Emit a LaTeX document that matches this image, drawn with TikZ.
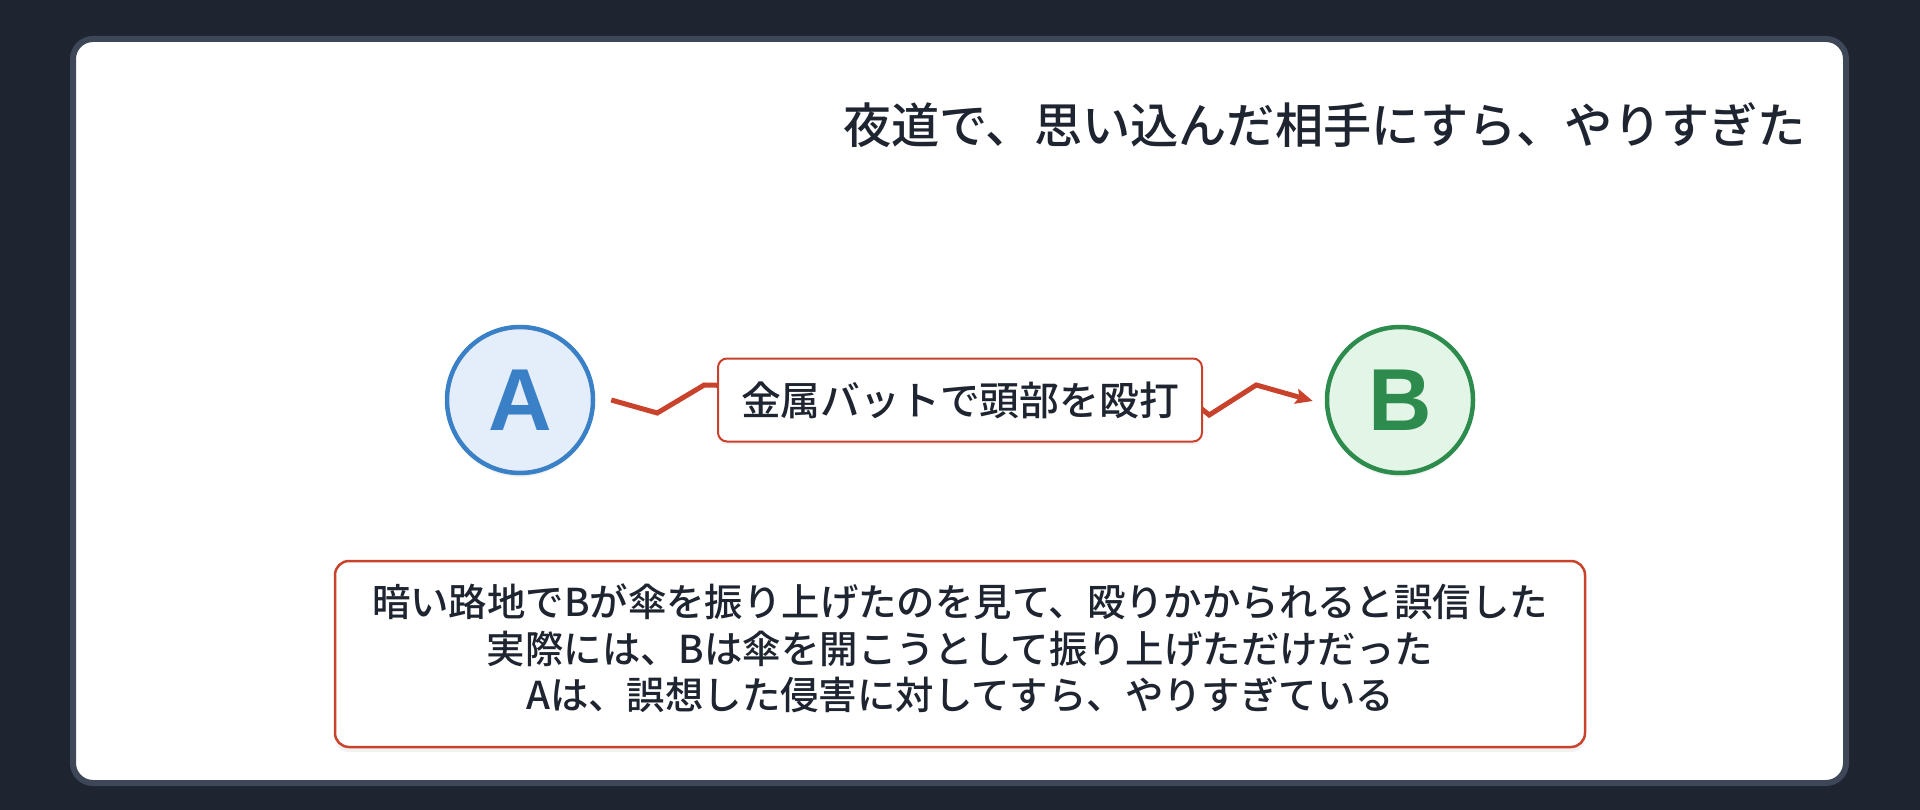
\documentclass[tikz,border=0pt]{standalone}
\usepackage{fontspec}
\setmainfont{Noto Sans CJK JP Medium}
\newfontfamily\latinbold{Liberation Sans}
\usetikzlibrary{shadows,arrows.meta,calc}
\definecolor{bgdark}{HTML}{1F2530}
\definecolor{framec}{HTML}{3E4757}
\definecolor{txt}{HTML}{1E2530}
\definecolor{redc}{HTML}{C9432C}
\definecolor{bluec}{HTML}{3A80C6}
\definecolor{bluef}{HTML}{E4EEFA}
\definecolor{greenc}{HTML}{2E8B4E}
\definecolor{greenf}{HTML}{E3F5E6}
\tikzset{
  person/.style={circle, minimum size=146pt, inner sep=0pt, line width=4.5pt,
    font=\latinbold\fontsize{88}{88}\selectfont\bfseries,
    drop shadow={opacity=0.10, shadow xshift=0pt, shadow yshift=-4pt}},
  zig/.style={draw=redc, line width=5pt, line join=miter},
  lblbox/.style={rectangle, rounded corners=9pt, draw=redc, line width=2pt, fill=white,
    minimum width=484pt, minimum height=83pt, inner sep=0pt, text=txt,
    font=\fontsize{39.8}{47}\selectfont,
    drop shadow={opacity=0.10, shadow xshift=0pt, shadow yshift=-3pt}},
  notebox/.style={rectangle, rounded corners=14pt, draw=redc, line width=2.5pt, fill=white,
    minimum width=1250pt, minimum height=186pt, inner sep=0pt, text=txt, align=center,
    font=\fontsize{38.4}{46.5}\selectfont,
    drop shadow={opacity=0.10, shadow xshift=0pt, shadow yshift=-5pt}},
  titletext/.style={text=txt, inner sep=0pt, font=\fontsize{48.2}{50}\selectfont}
}
\begin{document}
\begin{tikzpicture}[x=1pt,y=-1pt]
  \useasboundingbox (0,0) rectangle (1920,810);
  \fill[bgdark] (0,0) rectangle (1920,810);
  \draw[framec, fill=white, line width=6pt, rounded corners=20pt] (73,39) rectangle (1846,783);

  \node[titletext, anchor=east] (title) at (1806,125) {夜道で、思い込んだ相手にすら、やりすぎた};

  \node[person, draw=bluec, fill=bluef, text=bluec] (A) at (520,400) {A};
  \node[person, draw=greenc, fill=greenf, text=greenc] (B) at (1400,400) {B};

  \draw[zig, -{Stealth[length=17pt,width=15pt,inset=3pt]}]
    ($(A.east)+(16,0)$) -- ++(46,13) -- ++(47,-28) -- ++(480,10)
    -- ++(25,20) -- ++(47,-30) -- ($(B.west)+(-12,1)$);

  \node[lblbox] (lbl) at (960,400) {金属バットで頭部を殴打};

  \node[notebox] (note) at (960,654) {\raisebox{2pt}{\begin{tabular}{@{}c@{}}暗い路地でBが傘を振り上げたのを見て、殴りかかられると誤信した\\実際には、Bは傘を開こうとして振り上げただけだった\\Aは、誤想した侵害に対してすら、やりすぎている\end{tabular}}};
\end{tikzpicture}
\end{document}
